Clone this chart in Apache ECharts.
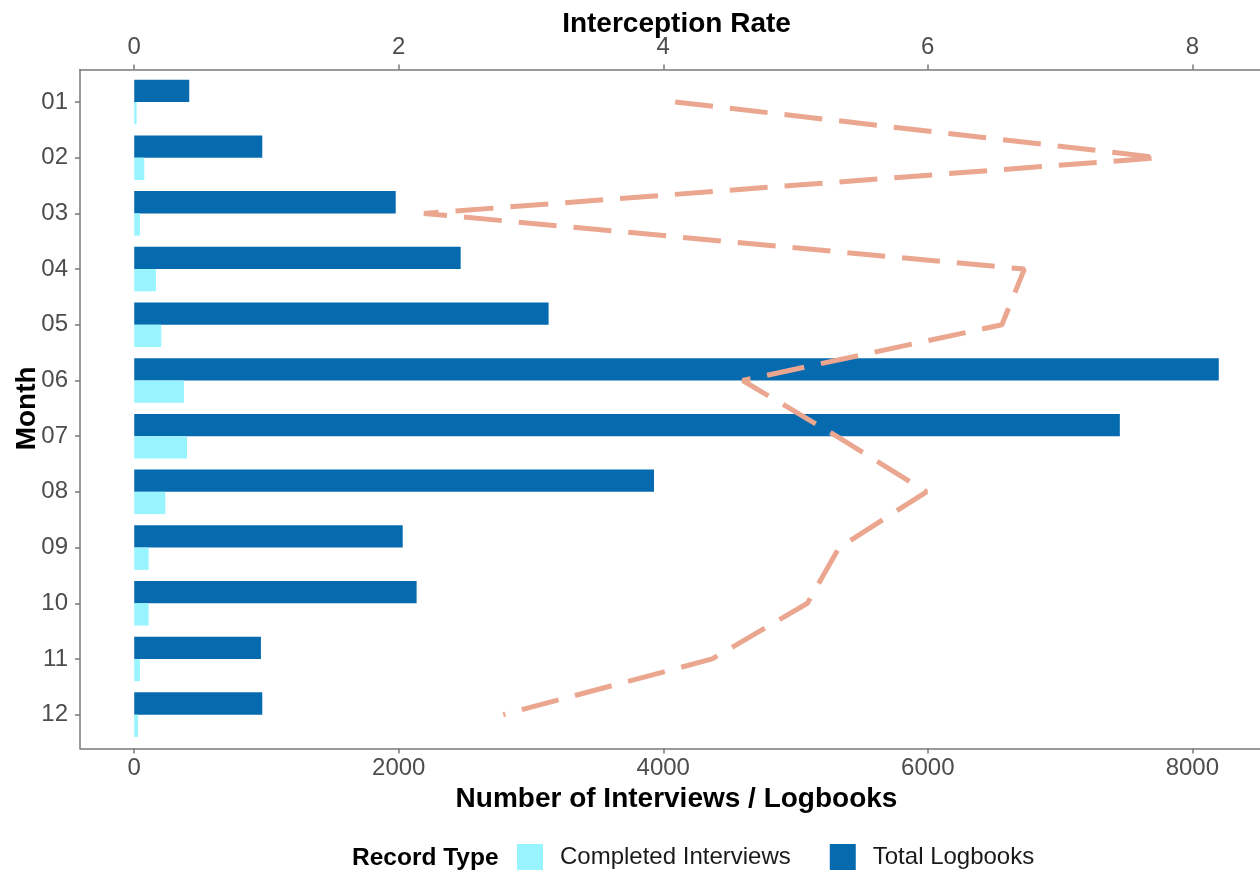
<!DOCTYPE html>
<html>
<head>
<meta charset="utf-8">
<script src="https://cdn.jsdelivr.net/npm/echarts@6/dist/echarts.min.js"></script>
<style>
html,body{margin:0;padding:0;background:#fff;}
#chart{width:1260px;height:873px;}
</style>
</head>
<body>
<div id="chart"></div>
<script>
const months = ['01','02','03','04','05','06','07','08','09','10','11','12'];
const totalLogbooks = [416, 968, 1977, 2468, 3133, 8200, 7452, 3930, 2030, 2135, 958, 968];
const completedInterviews = [18, 76, 43, 164, 205, 376, 399, 235, 109, 109, 43, 28];
const interceptionRate = [4.09, 7.75, 2.19, 6.73, 6.56, 4.60, 5.31, 5.99, 5.33, 5.09, 4.37, 2.79];
const countTicks = [0, 2000, 4000, 6000, 8000];
const rateTicks = [0, 2, 4, 6, 8];

const FONT = 'Liberation Sans, Arial, sans-serif';
const axisCol = '#7a7a7a';
const labelCol = '#4D4D4D';

const chart = echarts.init(document.getElementById('chart'), null, {renderer: 'canvas'});
chart.setOption({
  animation: false,
  backgroundColor: '#ffffff',
  textStyle: {fontFamily: FONT},
  grid: [
    {left: 80, right: -13, top: 74.15, bottom: 130.5, containLabel: false, outerBoundsMode: 'none'},
    {left: 80, right: -13, top: 69.5, bottom: 124.5, containLabel: false, outerBoundsMode: 'none'}
  ],
  legend: {
    data: ['Completed Interviews', 'Total Logbooks'],
    bottom: 3,
    left: 517,
    padding: 0,
    itemWidth: 26,
    itemHeight: 26,
    itemGap: 39,
    icon: 'rect',
    textStyle: {fontFamily: FONT, fontSize: 24, color: '#1a1a1a', padding: [0, 0, 0, 12]}
  },
  graphic: [{
    type: 'text',
    left: 352,
    top: 846,
    style: {text: 'Record Type', font: 'bold 24.5px ' + FONT, fill: '#000'}
  }],
  xAxis: [{
    type: 'value',
    gridIndex: 0,
    position: 'bottom',
    offset: 6,
    min: -410,
    max: 8610,
    name: 'Number of Interviews / Logbooks',
    nameLocation: 'middle',
    nameMoveOverlap: false,
    nameGap: 37,
    nameTextStyle: {fontFamily: FONT, fontSize: 28, fontWeight: 'bold', color: '#000'},
    axisLine: {show: true, onZero: false, lineStyle: {color: axisCol, width: 1.5}},
    axisTick: {show: true, customValues: countTicks, length: 5, lineStyle: {color: axisCol, width: 1.5}},
    axisLabel: {customValues: countTicks, formatter: v => String(v), fontFamily: FONT, fontSize: 24, color: labelCol, margin: 8},
    splitLine: {show: false}
  }, {
    type: 'value',
    gridIndex: 0,
    position: 'top',
    offset: 4.65,
    min: -0.41,
    max: 8.61,
    name: 'Interception Rate',
    nameLocation: 'middle',
    nameMoveOverlap: false,
    nameGap: 31,
    nameTextStyle: {fontFamily: FONT, fontSize: 28, fontWeight: 'bold', color: '#000'},
    axisLine: {show: true, onZero: false, lineStyle: {color: axisCol, width: 1.5}},
    axisTick: {show: true, customValues: rateTicks, length: 5, lineStyle: {color: axisCol, width: 1.5}},
    axisLabel: {customValues: rateTicks, formatter: v => String(v), fontFamily: FONT, fontSize: 24, color: labelCol, margin: 10},
    splitLine: {show: false}
  }, {
    type: 'value',
    gridIndex: 1,
    show: false,
    min: 0,
    max: 1
  }],
  yAxis: [{
    type: 'category',
    gridIndex: 0,
    data: months,
    inverse: true,
    name: 'Month',
    nameLocation: 'middle',
    nameMoveOverlap: false,
    nameGap: 39,
    nameRotate: 90,
    nameTextStyle: {fontFamily: FONT, fontSize: 28, fontWeight: 'bold', color: '#000'},
    axisLine: {show: false, onZero: false},
    axisTick: {show: true, alignWithLabel: true, length: 5, lineStyle: {color: axisCol, width: 1.5}},
    axisLabel: {fontFamily: FONT, fontSize: 24, color: labelCol, margin: 12},
    splitLine: {show: false}
  }, {
    type: 'value',
    gridIndex: 1,
    min: 0,
    max: 1,
    axisLine: {show: true, onZero: false, lineStyle: {color: axisCol, width: 1.5}},
    axisTick: {show: false},
    axisLabel: {show: false},
    splitLine: {show: false}
  }],
  series: [{
    name: 'Total Logbooks',
    type: 'bar',
    xAxisIndex: 0,
    yAxisIndex: 0,
    data: totalLogbooks,
    itemStyle: {color: '#066AAF'},
    barGap: '0%',
    barCategoryGap: '20%'
  }, {
    name: 'Completed Interviews',
    type: 'bar',
    xAxisIndex: 0,
    yAxisIndex: 0,
    data: completedInterviews,
    itemStyle: {color: '#98F5FF'},
    barGap: '0%',
    barCategoryGap: '20%'
  }, {
    name: 'Interception Rate',
    type: 'line',
    xAxisIndex: 1,
    yAxisIndex: 0,
    data: interceptionRate.map((r, i) => [r, months[i]]),
    symbol: 'none',
    lineStyle: {color: '#EBA68F', width: 5, type: [38, 17], cap: 'butt'},
    z: 5
  }]
});
</script>
</body>
</html>
